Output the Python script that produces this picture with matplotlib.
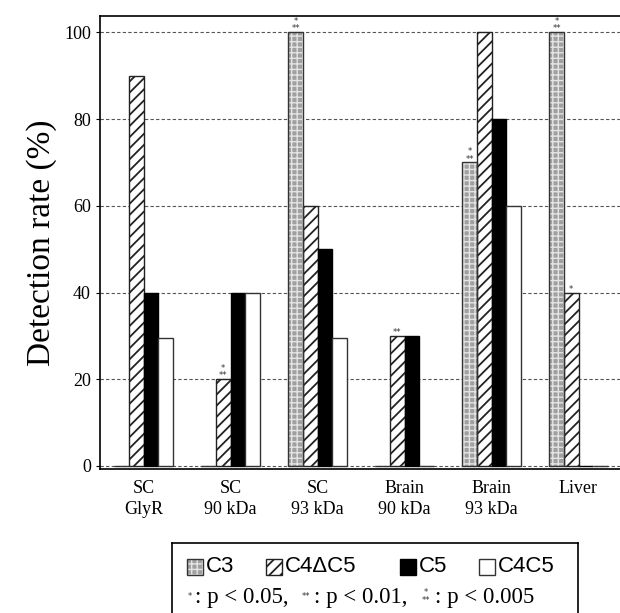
import numpy as np
import matplotlib
matplotlib.use("Agg")
import matplotlib.pyplot as plt
from matplotlib.patches import Rectangle

plt.rcParams['font.family'] = ['Liberation Serif', 'DejaVu Serif']
plt.rcParams['hatch.linewidth'] = 1.3

# data
groups = ['SC\nGlyR', 'SC\n90 kDa', 'SC\n93 kDa', 'Brain\n90 kDa', 'Brain\n93 kDa', 'Liver']
c3 = [0, 0, 100, 0, 70, 100]
c4dc5 = [90, 20, 60, 30, 100, 40]
c5 = [40, 40, 50, 30, 80, 0]
c4c5 = [29.4, 40, 29.4, 0, 60, 0]
# significance marks: (series index, group index, level) ; 1:* 2:** 3:***
signif = [(1, 1, 3), (0, 2, 3), (1, 3, 2), (0, 4, 3), (0, 5, 3), (1, 5, 1)]

series = [c3, c4dc5, c5, c4c5]
yticks = [0, 20, 40, 60, 80, 100]

fig = plt.figure(figsize=(6.2, 6.13), dpi=100)
ax = fig.add_axes([100/620, (613-469)/613, 522/620, (469-15.5)/613])

x = np.arange(len(groups))
w = 0.167
offs = [-1.5*w, -0.5*w, 0.5*w, 1.5*w]

gray = '#a0a0a0'
stip = '#e4e4e4'
# C3: gray stipple
with plt.rc_context({'hatch.linewidth': 1.0}):
    ax.bar(x + offs[0], c3, w, color=gray, hatch='+++', edgecolor=stip, linewidth=0, zorder=3)
ax.bar(x + offs[0], c3, w, fill=False, edgecolor='#333333', linewidth=1.0, zorder=4)
# C4dC5: diagonal hatch
ax.bar(x + offs[1], c4dc5, w, color='white', hatch='///', edgecolor='#222222', linewidth=1.0, zorder=3)
# C5: black
ax.bar(x + offs[2], c5, w, color='black', edgecolor='black', linewidth=1.0, zorder=3)
# C4C5: white
ax.bar(x + offs[3], c4c5, w, color='white', edgecolor='#333333', linewidth=1.0, zorder=3)

sk = dict(ha='center', va='center', fontsize=6, family='DejaVu Sans', color='#333333')
for s, g, lvl in signif:
    xv = x[g] + offs[s]
    yv = series[s][g]
    if lvl == 3:
        ax.annotate('**', (xv, yv), xytext=(0, 2.5), textcoords='offset points', **sk)
        ax.annotate('*', (xv, yv), xytext=(0, 8), textcoords='offset points', **sk)
    elif lvl == 2:
        ax.annotate('**', (xv, yv), xytext=(0, 2.5), textcoords='offset points', **sk)
    else:
        ax.annotate('*', (xv, yv), xytext=(0, 2.5), textcoords='offset points', **sk)

ax.set_xlim(-0.5, 5.5)
ax.set_ylim(-0.7, 103.9)
ax.set_yticks(yticks)
ax.set_yticklabels([str(v) for v in yticks], fontsize=13)
ax.set_xticks(x)
ax.set_xticklabels(groups, fontsize=13, linespacing=1.3)
ax.tick_params(axis='x', length=0, pad=8)
ax.tick_params(axis='y', length=3, direction='out')
ax.yaxis.grid(True, linestyle=(0, (3, 2)), color='#555555', linewidth=0.8, zorder=0)
ax.set_axisbelow(True)
ax.spines['right'].set_visible(False)
for sp in ['left', 'top', 'bottom']:
    ax.spines[sp].set_linewidth(1.2)
ax.set_ylabel('Detection rate (%)', fontsize=24, labelpad=5)

# legend box
lax = fig.add_axes([172/620, 0, (578-172)/620, (613-543)/613])
lax.set_xlim(0, 406)
lax.set_ylim(0, 70)
lax.set_xticks([])
lax.set_yticks([])
lax.spines['bottom'].set_visible(False)
for sp in ['left', 'top', 'right']:
    lax.spines[sp].set_linewidth(1.2)

ry = 46
with plt.rc_context({'hatch.linewidth': 1.0}):
    lax.add_patch(Rectangle((15, ry - 8), 16, 16, facecolor=gray, hatch='+++', edgecolor=stip, linewidth=0))
lax.add_patch(Rectangle((15, ry - 8), 16, 16, fill=False, edgecolor='#333333', linewidth=1.0))
lax.text(34, ry, 'C3', fontsize=16, family='Liberation Sans', va='center')
lax.add_patch(Rectangle((94, ry - 8), 16, 16, facecolor='white', hatch='///', edgecolor='#222222', linewidth=1.0))
lax.text(113, ry, 'C4\u0394C5', fontsize=16, family='Liberation Sans', va='center')
lax.add_patch(Rectangle((228, ry - 8), 16, 16, facecolor='black', edgecolor='black', linewidth=1.0))
lax.text(247, ry, 'C5', fontsize=16, family='Liberation Sans', va='center')
lax.add_patch(Rectangle((307, ry - 8), 16, 16, facecolor='white', edgecolor='#333333', linewidth=1.0))
lax.text(326, ry, 'C4C5', fontsize=16, family='Liberation Sans', va='center')

py = 16
lax.text(18, py, '*', **sk)
lax.text(23, py, ': p < 0.05,', fontsize=16.5, va='center')
lax.text(134, py, '**', **sk)
lax.text(142, py, ': p < 0.01,', fontsize=16.5, va='center')
lax.text(254, py - 3, '**', **sk)
lax.text(254, py + 5, '*', **sk)
lax.text(263, py, ': p < 0.005', fontsize=16.5, va='center')

fig.savefig('out.png', dpi=100)
